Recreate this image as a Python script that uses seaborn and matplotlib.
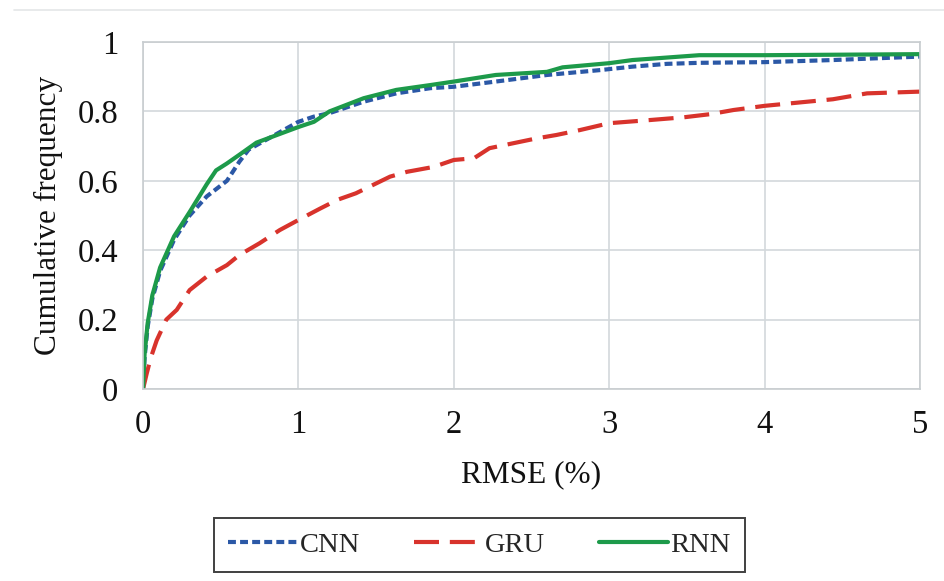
import numpy as np
import pandas as pd
import matplotlib
matplotlib.use("Agg")
import matplotlib.pyplot as plt
import seaborn as sns

# values (RMSE %, cumulative frequency)
cnn_x = [0, 0.01, 0.03, 0.06, 0.11, 0.2, 0.3, 0.41, 0.54, 0.62, 0.68, 0.8, 0.9,
         1.0, 1.1, 1.2, 1.42, 1.63, 1.85, 2.0, 2.27, 2.6, 2.94, 3.15, 3.37, 3.58,
         4.0, 4.44, 5.0]
cnn_y = [0, 0.09, 0.18, 0.26, 0.34, 0.43, 0.50, 0.555, 0.60, 0.655, 0.69, 0.72, 0.745,
         0.77, 0.785, 0.795, 0.828, 0.852, 0.867, 0.871, 0.886, 0.905, 0.919, 0.929, 0.937, 0.94,
         0.942, 0.948, 0.958]

gru_x = [0, 0.024, 0.05, 0.088, 0.15, 0.217, 0.30, 0.41, 0.54, 0.62, 0.75, 0.88,
         1.0, 1.14, 1.25, 1.37, 1.59, 1.70, 1.87, 2.0, 2.13, 2.23, 2.38, 2.53, 2.66,
         2.81, 3.0, 3.26, 3.48, 3.65, 3.80, 4.0, 4.23, 4.44, 4.66, 5.0]
gru_y = [0, 0.045, 0.09, 0.14, 0.20, 0.228, 0.285, 0.324, 0.357, 0.386, 0.42, 0.458,
         0.487, 0.52, 0.545, 0.564, 0.612, 0.626, 0.64, 0.66, 0.665, 0.694, 0.708, 0.722, 0.732,
         0.746, 0.766, 0.775, 0.783, 0.792, 0.804, 0.816, 0.826, 0.835, 0.852, 0.857]

rnn_x = [0, 0.01, 0.03, 0.06, 0.11, 0.2, 0.3, 0.41, 0.47, 0.54, 0.62, 0.73, 0.88,
         1.0, 1.1, 1.2, 1.42, 1.63, 1.85, 2.0, 2.27, 2.6, 2.7, 3.0, 3.15, 3.58, 4.0, 5.0]
rnn_y = [0, 0.10, 0.19, 0.27, 0.35, 0.44, 0.51, 0.59, 0.63, 0.65, 0.675, 0.71, 0.735,
         0.755, 0.77, 0.80, 0.838, 0.862, 0.876, 0.886, 0.905, 0.914, 0.927, 0.939, 0.948, 0.962,
         0.962, 0.965]

models = ["CNN", "GRU", "RNN"]
colors = {"CNN": "#2b58a6", "GRU": "#d8332c", "RNN": "#1d9a4a"}
dashes = {"CNN": (1.9, 1.0), "GRU": (6.0, 2.6), "RNN": ""}


def build_frame():
    parts = []
    for name, xs, ys in [("CNN", cnn_x, cnn_y), ("GRU", gru_x, gru_y), ("RNN", rnn_x, rnn_y)]:
        parts.append(pd.DataFrame({"rmse": xs, "freq": ys, "model": name}))
    return pd.concat(parts, ignore_index=True)


def main():
    sns.set_style("whitegrid")
    plt.rcParams["font.family"] = ["Liberation Serif", "DejaVu Serif"]

    df = build_frame()
    fig = plt.figure(figsize=(9.44, 5.81), dpi=100)
    ax = fig.add_axes([0.1515, 0.3305, 0.823, 0.5972])

    sns.lineplot(data=df, x="rmse", y="freq", hue="model", style="model",
                 hue_order=models, style_order=models, palette=colors, dashes=dashes,
                 sort=False, estimator=None, linewidth=3.0, ax=ax, legend=False)

    ax.set_xlim(0, 5)
    ax.set_ylim(0, 1)
    ax.set_xticks([0, 1, 2, 3, 4, 5])
    ax.set_yticks([0, 0.2, 0.4, 0.6, 0.8, 1.0])
    ax.set_yticklabels(["0", "0.2", "0.4", "0.6", "0.8", "1"])
    ax.tick_params(axis="both", length=0, labelsize=23.5, colors="#111111")
    ax.tick_params(axis="x", pad=15)
    ax.tick_params(axis="y", pad=18)
    ax.grid(True, color="#d3d8db", linewidth=1.2)
    for s in ax.spines.values():
        s.set_color("#c8cdd0")
        s.set_linewidth(1.2)

    ax.set_xlabel("RMSE (%)", fontsize=22.5, labelpad=14, color="#111111")
    ax.set_ylabel("Cumulative frequency", fontsize=22.5, labelpad=10, color="#111111")

    # legend boxed below the axes
    handles = [plt.Line2D([], [], color=colors[m], linewidth=3.0,
                          dashes=dashes[m] if dashes[m] else (None, None)) for m in models]
    leg = fig.legend(handles, models, loc="center", bbox_to_anchor=(0.508, 0.062),
                     ncol=3, fontsize=20.5, frameon=True, fancybox=False,
                     handlelength=2.4, handletextpad=0.1, columnspacing=1.9,
                     borderpad=0.5, borderaxespad=0.0)
    leg.get_frame().set_edgecolor("#111111")
    leg.get_frame().set_linewidth(1.4)

    # faint band at the very top of the source image
    fig.add_artist(plt.Line2D([0.015, 1.0], [0.982, 0.982], color="#e4e6e8", linewidth=1.2))

    fig.savefig("out.png", dpi=100, facecolor="white")
    plt.close(fig)


if __name__ == "__main__":
    main()
